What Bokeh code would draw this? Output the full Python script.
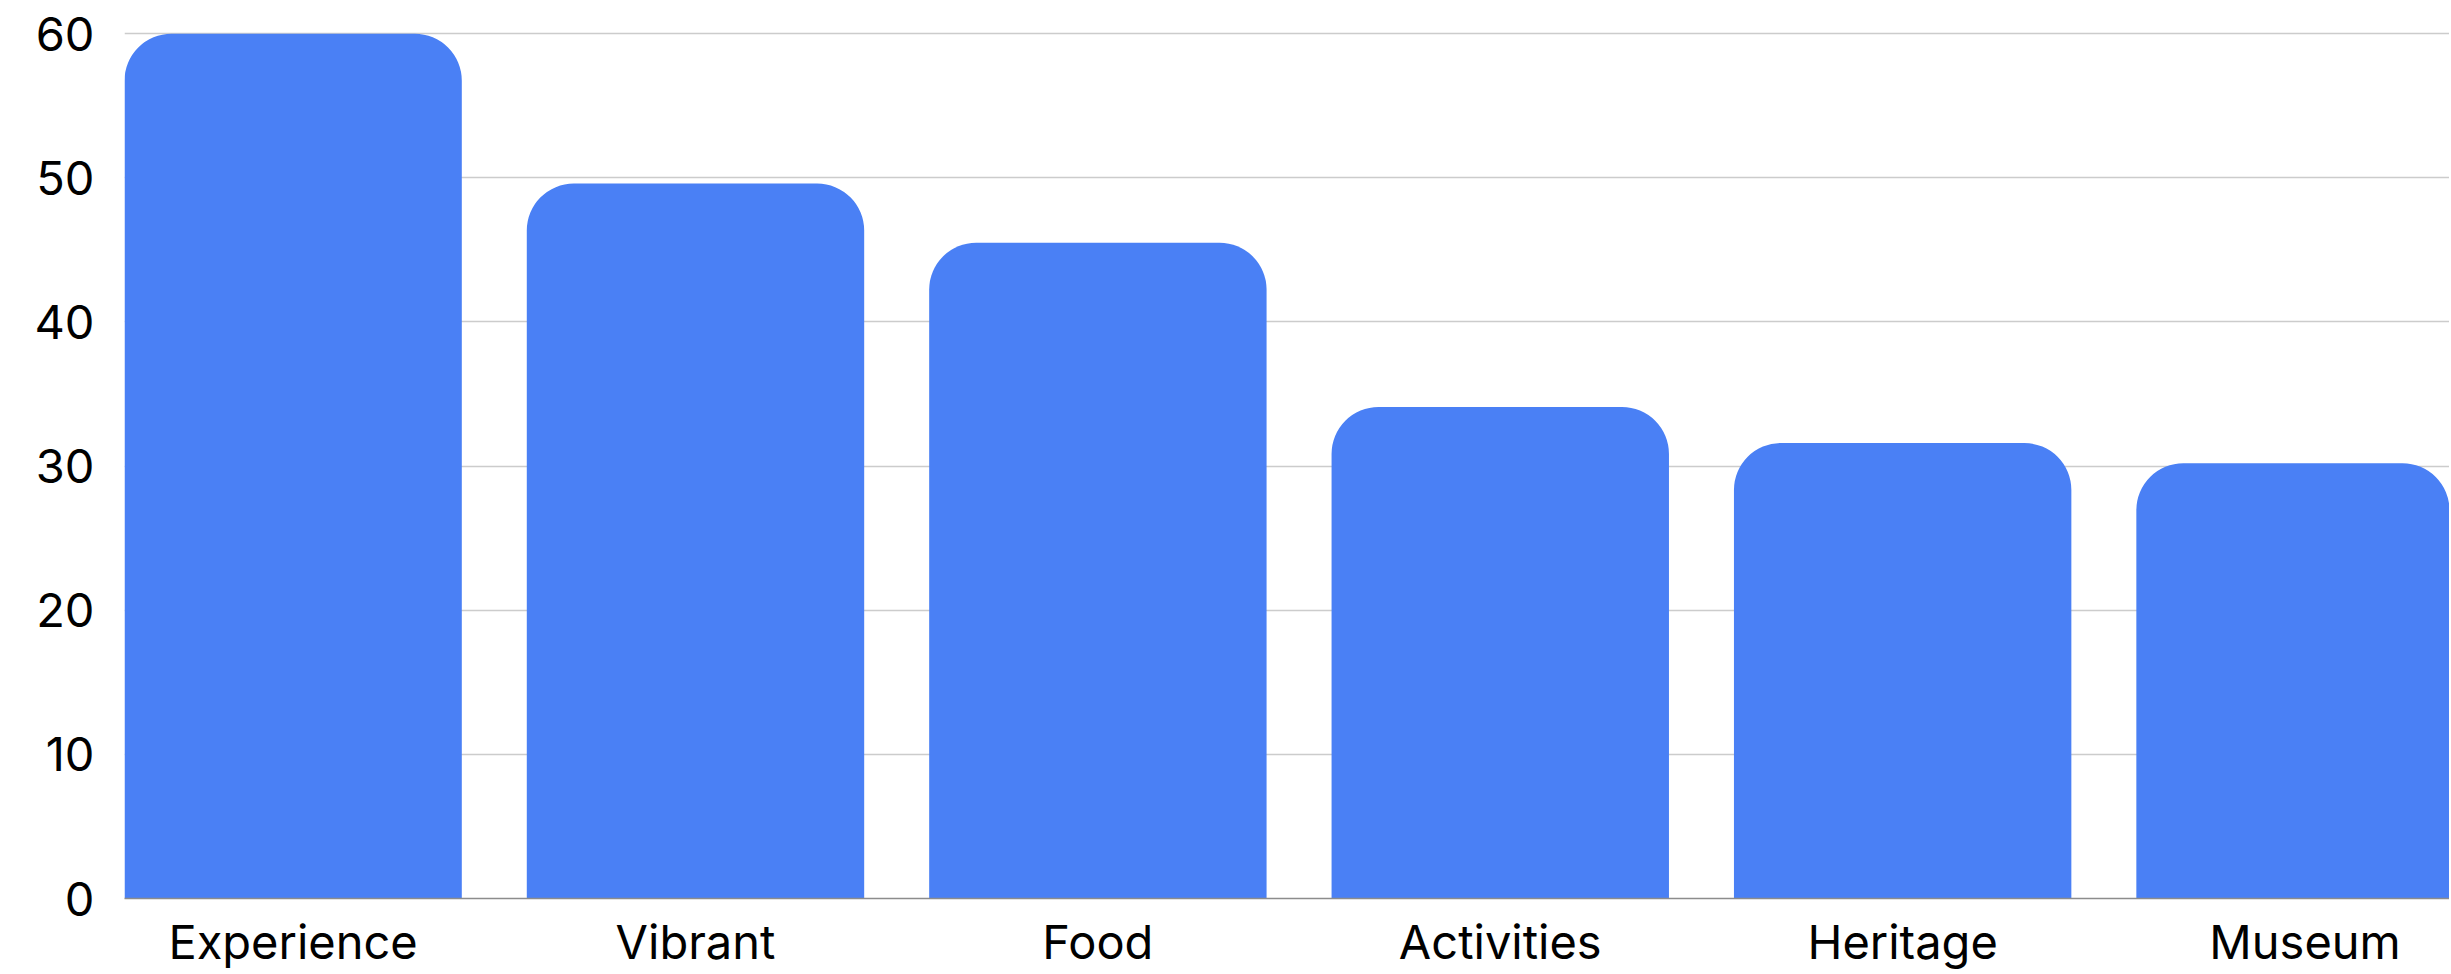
from bokeh.plotting import figure
from bokeh.models import Range1d, FixedTicker
from bokeh.embed import file_html
from bokeh.resources import INLINE

categories = ["Experience", "Vibrant", "Food", "Activities", "Heritage", "Museum"]
values = [60, 49.6, 45.5, 34.1, 31.6, 30.2]
y_ticks = [0, 10, 20, 30, 40, 50, 60]

positions = list(range(len(categories)))

FONT = "Inter"
BAR_COLOR = "#4a80f5"

p = figure(
    width=2449, height=972,
    output_backend="svg", toolbar_location=None,
    x_range=Range1d(-0.419, 5.359), y_range=Range1d(0, 60.29),
    min_border_left=124, min_border_right=0, min_border_top=29, min_border_bottom=73,
    background_fill_color="white", border_fill_color="white",
)
p.outline_line_color = None

p.vbar(x=positions, top=values, bottom=0, width=0.8385,
       fill_color=BAR_COLOR, line_color=None,
       border_radius=(47, 47, 0, 0))

# x axis
p.xaxis.ticker = FixedTicker(ticks=positions, minor_ticks=[])
p.xaxis.major_label_overrides = {i: c for i, c in enumerate(categories)}
p.xaxis.axis_line_color = "#8c8c8c"
p.xaxis.axis_line_width = 1.5
p.xaxis.major_tick_line_color = None
p.xaxis.minor_tick_line_color = None
p.xaxis.major_tick_out = 0
p.xaxis.major_tick_in = 0
p.xaxis.minor_tick_out = 0
p.xaxis.minor_tick_in = 0
p.xaxis.major_label_standoff = 14
p.xaxis.major_label_text_font = FONT
p.xaxis.major_label_text_font_size = "47px"
p.xaxis.major_label_text_color = "#000000"

# y axis
p.yaxis.ticker = FixedTicker(ticks=y_ticks, minor_ticks=[])
p.yaxis.axis_line_color = None
p.yaxis.major_tick_line_color = None
p.yaxis.minor_tick_line_color = None
p.yaxis.major_tick_out = 0
p.yaxis.major_tick_in = 0
p.yaxis.minor_tick_out = 0
p.yaxis.minor_tick_in = 0
p.yaxis.major_label_standoff = 30
p.yaxis.major_label_text_font = FONT
p.yaxis.major_label_text_font_size = "47px"
p.yaxis.major_label_text_color = "#000000"

# grid
p.xgrid.visible = False
p.ygrid.ticker = FixedTicker(ticks=y_ticks, minor_ticks=[])
p.ygrid.grid_line_color = "#cccccc"
p.ygrid.grid_line_width = 1.7

open("out.html", "w").write(file_html(p, INLINE))
